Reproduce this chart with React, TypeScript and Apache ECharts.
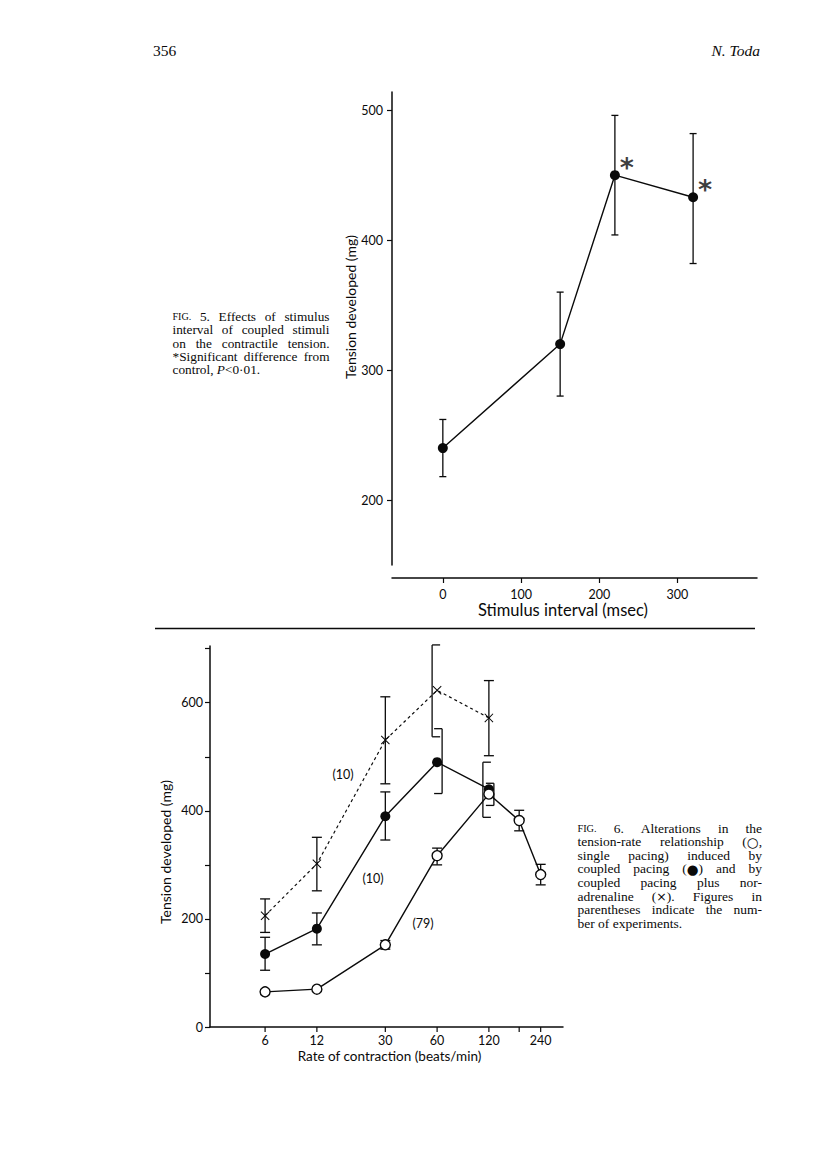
import React, { useEffect, useRef } from 'react';
import * as echarts from 'echarts';

// ---------- Fig. 5 data ----------
const fig5Interval = [0, 150, 220, 320];
const fig5Tension = [240, 320, 450, 433];
const fig5Low = [218, 280, 404, 382];
const fig5High = [262, 360, 496, 482];
const fig5Significant = [false, false, true, true];
const fig5XTicks = [0, 100, 200, 300];
const fig5YTicks = [200, 300, 400, 500];

// ---------- Fig. 6 data ----------
const fig6Rates = [6, 12, 30, 60, 120, 180, 240];
const fig6RateLabels = ['6', '12', '30', '60', '120', '', '240'];
const singleTension = [65, 70, 152, 317, 431, 382, 282];
const singleLow = [null, null, 144, 300, 410, 363, 263];
const singleHigh = [null, null, 160, 331, 451, 401, 301];
const coupledTension = [135, 182, 390, 490, 440];
const coupledLow = [105, 152, 346, 432, 388];
const coupledHigh = [166, 211, 435, 552, 490];
const noradTension = [206, 302, 531, 623, 572];
const noradLow = [175, 252, 450, 537, 502];
const noradHigh = [237, 351, 611, 707, 641];
const fig6YTicks = [0, 100, 200, 300, 400, 500, 600, 700];
const fig6YLabels = [0, 200, 400, 600];

const fig5Caption = [
  'FIG. 5. Effects of stimulus',
  'interval of coupled stimuli',
  'on the contractile tension.',
  '*Significant difference from',
  'control, P<0·01.',
];
const fig6Caption = [
  'FIG. 6. Alterations in the',
  'tension-rate relationship (○,',
  'single pacing) induced by',
  'coupled pacing (●) and by',
  'coupled pacing plus nor-',
  'adrenaline (×). Figures in',
  'parentheses indicate the num-',
  'ber of experiments.',
];

// ---------- styles ----------
const INK = '#0a0a0a';
const AX = 'Lato, "DejaVu Sans", sans-serif';
const SERIF = '"Liberation Serif", "Times New Roman", serif';
const SYM = '"DejaVu Sans", sans-serif';

// bracket-style error bars (side: -1 = "[" , 1 = "]")
const bracketStyle: Record<string, { side: number; dx: number }> = {
  'norad:3': { side: -1, dx: -5 },
  'coupled:3': { side: 1, dx: 5 },
  'coupled:4': { side: -1, dx: -6 },
  'single:4': { side: 1, dx: 5 },
};

function makeErrRender(key: string, capHalf: number) {
  return (params: any, api: any) => {
    const x = api.value(0);
    const lo = api.value(1);
    const hi = api.value(2);
    if (isNaN(lo) || isNaN(hi)) return null;
    const pLo = api.coord([x, lo]);
    const pHi = api.coord([x, hi]);
    const br = bracketStyle[key + ':' + params.dataIndex];
    const ls = { stroke: INK, lineWidth: 1.3 };
    if (br) {
      const vx = pLo[0] + br.dx;
      const cx = vx - br.side * 8;
      return {
        type: 'group',
        children: [
          { type: 'line', shape: { x1: vx, y1: pLo[1], x2: vx, y2: pHi[1] }, style: ls },
          { type: 'line', shape: { x1: cx, y1: pLo[1], x2: vx, y2: pLo[1] }, style: ls },
          { type: 'line', shape: { x1: cx, y1: pHi[1], x2: vx, y2: pHi[1] }, style: ls },
        ],
      };
    }
    return {
      type: 'group',
      children: [
        { type: 'line', shape: { x1: pLo[0], y1: pLo[1], x2: pHi[0], y2: pHi[1] }, style: ls },
        { type: 'line', shape: { x1: pLo[0] - capHalf, y1: pLo[1], x2: pLo[0] + capHalf, y2: pLo[1] }, style: ls },
        { type: 'line', shape: { x1: pHi[0] - capHalf, y1: pHi[1], x2: pHi[0] + capHalf, y2: pHi[1] }, style: ls },
      ],
    };
  };
}

function txt(x: number, y: number, text: string, o: any = {}) {
  const align = o.align || 'left';
  const va = o.va || 'middle';
  return {
    type: 'text',
    x,
    y,
    rotation: o.rotation || 0,
    silent: true,
    style: {
      text,
      fill: INK,
      fontSize: o.size || 13,
      fontFamily: o.family || SERIF,
      fontStyle: o.italic ? 'italic' : 'normal',
      fontWeight: o.weight || 'normal',
      align,
      textAlign: align,
      verticalAlign: va,
      textVerticalAlign: va,
    },
  };
}

type Run = { t: string; size: number; italic: boolean; family: string; w: number };

function wordToRuns(w: string, size: number): Run[] {
  if (w === 'FIG.') return [{ t: 'FIG.', size: size * 0.76, italic: false, family: SERIF, w: 0 }];
  const runs: Run[] = [];
  let buf = '';
  const flush = () => {
    if (buf) runs.push({ t: buf, size, italic: false, family: SERIF, w: 0 });
    buf = '';
  };
  for (let i = 0; i < w.length; i++) {
    const ch = w[i];
    if (ch === '○' || ch === '●' || ch === '×') {
      flush();
      runs.push({ t: ch, size: ch === '×' ? size - 1 : size, italic: false, family: SYM, w: 0 });
    } else if (ch === 'P' && w[i + 1] === '<') {
      flush();
      runs.push({ t: 'P', size, italic: true, family: SERIF, w: 0 });
    } else {
      buf += ch;
    }
  }
  flush();
  return runs;
}

function captionElements(lines: string[], x0: number, x1: number, y0: number, dy: number, size: number) {
  const ctx = document.createElement('canvas').getContext('2d') as CanvasRenderingContext2D;
  const els: any[] = [];
  const fontOf = (r: Run) => `${r.italic ? 'italic ' : ''}${r.size}px ${r.family}`;
  lines.forEach((line, li) => {
    const words = line.split(' ');
    const wordRuns = words.map((w) => wordToRuns(w, size));
    const widths = wordRuns.map((runs) =>
      runs.reduce((s, r) => {
        ctx.font = fontOf(r);
        r.w = ctx.measureText(r.t).width;
        return s + r.w;
      }, 0)
    );
    const total = widths.reduce((a, b) => a + b, 0);
    const last = li === lines.length - 1;
    ctx.font = `${size}px ${SERIF}`;
    const gap = last || words.length < 2 ? ctx.measureText(' ').width : (x1 - x0 - total) / (words.length - 1);
    let x = x0;
    const y = y0 + li * dy;
    wordRuns.forEach((runs) => {
      runs.forEach((r) => {
        els.push(txt(x, y, r.t, { size: r.size, italic: r.italic, family: r.family }));
        x += r.w;
      });
      x += gap;
    });
  });
  return els;
}

const crossSymbol = 'path://M0,0.8L0.8,0L5,4.2L9.2,0L10,0.8L5.8,5L10,9.2L9.2,10L5,5.8L0.8,10L0,9.2L4.2,5Z';

export default function App() {
  const ref = useRef<HTMLDivElement>(null);
  useEffect(() => {
    if (!ref.current) return;
    const chart = echarts.init(ref.current, undefined, { renderer: 'svg' });
    const axisLine = { show: true, onZero: false, lineStyle: { color: INK, width: 1.5 } };
    const labelStyle = { color: INK, fontSize: 12.5, fontFamily: AX };

    const option: any = {
      animation: false,
      backgroundColor: '#fff',
      grid: [
        { left: 392, top: 92, width: 365, height: 473 },
        { left: 210, top: 646, width: 353, height: 381 },
      ],
      xAxis: [
        {
          gridIndex: 0,
          type: 'value',
          min: -65,
          max: 401.7,
          offset: 13,
          axisLine,
          axisTick: { show: true, customValues: fig5XTicks, length: 5, lineStyle: { color: INK, width: 1.2 } },
          axisLabel: { customValues: fig5XTicks, margin: 10, ...labelStyle },
          splitLine: { show: false },
          name: 'Stimulus interval (msec)',
          nameLocation: 'middle',
          nameGap: 23,
          nameTextStyle: { color: INK, fontSize: 16.5, fontFamily: AX, padding: [0, 23, 0, 0] },
        },
        {
          gridIndex: 1,
          type: 'log',
          logBase: 10,
          min: 2.87,
          max: 323.6,
          axisLine,
          axisTick: { show: false },
          axisLabel: { show: false },
          minorTick: { show: false },
          splitLine: { show: false },
          name: 'Rate of contraction (beats/min)',
          nameLocation: 'middle',
          nameGap: 22,
          nameTextStyle: { color: INK, fontSize: 13.5, fontFamily: AX, padding: [0, 0, 0, 6] },
        },
      ],
      yAxis: [
        {
          gridIndex: 0,
          type: 'value',
          min: 150,
          max: 514,
          axisLine,
          axisTick: { show: true, customValues: fig5YTicks, length: 5, lineStyle: { color: INK, width: 1.2 } },
          axisLabel: { customValues: fig5YTicks, margin: 9, ...labelStyle },
          splitLine: { show: false },
        },
        {
          gridIndex: 1,
          type: 'value',
          min: 0,
          max: 705,
          axisLine,
          axisTick: { show: true, customValues: fig6YTicks, length: 5, lineStyle: { color: INK, width: 1.2 } },
          axisLabel: { customValues: fig6YLabels, margin: 7, ...labelStyle },
          splitLine: { show: false },
        },
      ],
      series: [
        {
          type: 'custom',
          name: 'fig5-err',
          xAxisIndex: 0,
          yAxisIndex: 0,
          clip: false,
          z: 2,
          encode: { x: 0, y: [1, 2] },
          data: fig5Interval.map((x, i) => [x, fig5Low[i], fig5High[i]]),
          renderItem: makeErrRender('fig5', 3.5),
        },
        {
          type: 'line',
          name: 'fig5',
          xAxisIndex: 0,
          yAxisIndex: 0,
          z: 3,
          symbol: 'circle',
          symbolSize: 10,
          itemStyle: { color: INK },
          lineStyle: { color: INK, width: 1.4 },
          data: fig5Interval.map((x, i) => [x, fig5Tension[i]]),
        },
        {
          type: 'scatter',
          name: 'fig5-sig',
          xAxisIndex: 0,
          yAxisIndex: 0,
          z: 4,
          symbolSize: 1,
          itemStyle: { color: 'rgba(0,0,0,0)' },
          label: {
            show: true,
            formatter: '*',
            position: 'inside',
            offset: [12, -8],
            color: INK,
            fontSize: 27,
            fontWeight: 'bold',
            fontFamily: SYM,
          },
          data: fig5Interval.map((x, i) => [x, fig5Tension[i]]).filter((_, i) => fig5Significant[i]),
        },
        {
          type: 'custom',
          name: 'single-err',
          xAxisIndex: 1,
          yAxisIndex: 1,
          clip: false,
          z: 2,
          encode: { x: 0, y: [1, 2] },
          data: fig6Rates.map((r, i) => [r, singleLow[i] ?? '-', singleHigh[i] ?? '-']),
          renderItem: makeErrRender('single', 5),
        },
        {
          type: 'custom',
          name: 'coupled-err',
          xAxisIndex: 1,
          yAxisIndex: 1,
          clip: false,
          z: 2,
          encode: { x: 0, y: [1, 2] },
          data: coupledTension.map((_, i) => [fig6Rates[i], coupledLow[i], coupledHigh[i]]),
          renderItem: makeErrRender('coupled', 5),
        },
        {
          type: 'custom',
          name: 'norad-err',
          xAxisIndex: 1,
          yAxisIndex: 1,
          clip: false,
          z: 2,
          encode: { x: 0, y: [1, 2] },
          data: noradTension.map((_, i) => [fig6Rates[i], noradLow[i], noradHigh[i]]),
          renderItem: makeErrRender('norad', 5),
        },
        {
          type: 'line',
          name: 'noradrenaline',
          xAxisIndex: 1,
          yAxisIndex: 1,
          z: 3,
          symbol: crossSymbol,
          symbolSize: 9,
          itemStyle: { color: INK },
          lineStyle: { color: INK, width: 1.2, type: [3, 3] },
          data: noradTension.map((v, i) => [fig6Rates[i], v]),
        },
        {
          type: 'line',
          name: 'coupled',
          xAxisIndex: 1,
          yAxisIndex: 1,
          z: 4,
          symbol: 'circle',
          symbolSize: 10,
          itemStyle: { color: INK },
          lineStyle: { color: INK, width: 1.4 },
          data: coupledTension.map((v, i) => [fig6Rates[i], v]),
        },
        {
          type: 'line',
          name: 'single',
          xAxisIndex: 1,
          yAxisIndex: 1,
          z: 5,
          symbol: 'circle',
          symbolSize: 10,
          itemStyle: { color: '#fff', borderColor: INK, borderWidth: 1.4 },
          lineStyle: { color: INK, width: 1.4 },
          data: singleTension.map((v, i) => [fig6Rates[i], v]),
        },
        {
          type: 'custom',
          name: 'rate-ticks',
          xAxisIndex: 1,
          yAxisIndex: 1,
          clip: false,
          z: 6,
          silent: true,
          encode: { x: 0, y: 1 },
          data: fig6Rates.map((r) => [r, 0]),
          renderItem: (params: any, api: any) => {
            const p = api.coord([api.value(0), api.value(1)]);
            const label = fig6RateLabels[params.dataIndex];
            return {
              type: 'group',
              children: [
                { type: 'line', shape: { x1: p[0], y1: p[1], x2: p[0], y2: p[1] + 5 }, style: { stroke: INK, lineWidth: 1.2 } },
                {
                  type: 'text',
                  x: p[0],
                  y: p[1] + 13.5,
                  style: {
                    text: label,
                    fill: INK,
                    fontSize: 12.5,
                    fontFamily: AX,
                    align: 'center',
                    textAlign: 'center',
                    verticalAlign: 'middle',
                    textVerticalAlign: 'middle',
                  },
                },
              ],
            };
          },
        },
      ],
      graphic: [
        txt(153, 50, '356', { size: 15.5 }),
        txt(760, 50, 'N. Toda', { size: 15.5, italic: true, align: 'right' }),
        txt(350, 307, 'Tension developed (mg)', { family: AX, size: 14, rotation: Math.PI / 2, align: 'center' }),
        txt(165, 852, 'Tension developed (mg)', { family: AX, size: 14, rotation: Math.PI / 2, align: 'center' }),
        txt(343, 774, '(10)', { family: AX, size: 12.5, align: 'center' }),
        txt(373, 878, '(10)', { family: AX, size: 12.5, align: 'center' }),
        txt(423, 923, '(79)', { family: AX, size: 12.5, align: 'center' }),
        {
          type: 'line',
          silent: true,
          shape: { x1: 155, y1: 628.5, x2: 755, y2: 628.5 },
          style: { stroke: INK, lineWidth: 1.6 },
        },
        ...captionElements(fig5Caption, 172.5, 329.5, 316.5, 13.3, 13.3),
        ...captionElements(fig6Caption, 577.5, 762, 828, 13.6, 13.5),
      ],
    };
    chart.setOption(option);
    return () => chart.dispose();
  }, []);
  return (
    <div
      ref={ref}
      style={{ position: 'absolute', left: 0, top: 0, width: 816, height: 1156, background: '#fff' }}
    />
  );
}
